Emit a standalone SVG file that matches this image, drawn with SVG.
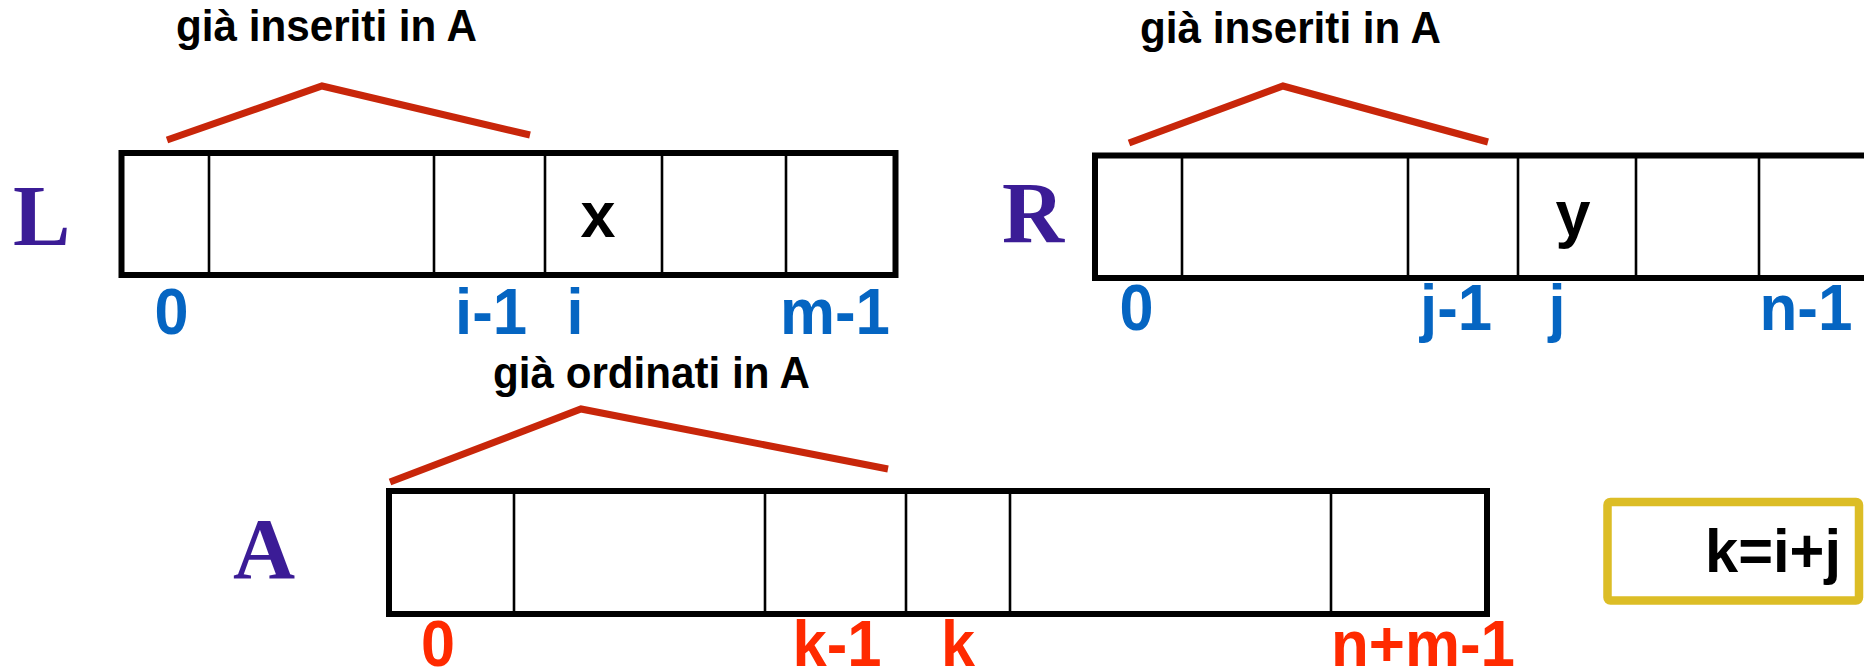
<svg xmlns="http://www.w3.org/2000/svg" width="1864" height="671" viewBox="0 0 1864 671">
<style>
.box{fill:#fff;stroke:#000;stroke-width:6}
.div{stroke:#000;stroke-width:2.6}
.brace{fill:none;stroke:#c8260a;stroke-width:7;stroke-linejoin:miter}
.title{font-family:"Liberation Sans",Arial,sans-serif;font-weight:bold;font-size:44px;fill:#000}
.name{font-family:"Liberation Serif","Times New Roman",serif;font-weight:bold;font-size:86px;fill:#3b1c96}
.val{font-family:"Liberation Sans",Arial,sans-serif;font-weight:bold;font-size:64px;fill:#000;text-anchor:middle}
.ib{font-family:"Liberation Sans",Arial,sans-serif;font-weight:bold;font-size:65px;fill:#0565c2;text-anchor:middle}
.ir{font-family:"Liberation Sans",Arial,sans-serif;font-weight:bold;font-size:65px;fill:#ff2a00;text-anchor:middle}
</style>
<rect width="1864" height="671" fill="#fff"/>
<g id="arrayL">
<text class="name" x="13" y="245">L</text>
<rect class="box" x="121.5" y="153" width="774" height="122"/>
<line class="div" x1="209" y1="153" x2="209" y2="275"/>
<line class="div" x1="434" y1="153" x2="434" y2="275"/>
<line class="div" x1="545" y1="153" x2="545" y2="275"/>
<line class="div" x1="662" y1="153" x2="662" y2="275"/>
<line class="div" x1="786" y1="153" x2="786" y2="275"/>
<text class="val" x="598" y="237" textLength="35" lengthAdjust="spacingAndGlyphs">x</text>
<text class="ib" x="171.5" y="334" textLength="34" lengthAdjust="spacingAndGlyphs">0</text>
<text class="ib" x="491" y="334" textLength="72" lengthAdjust="spacingAndGlyphs">i-1</text>
<text class="ib" x="575" y="334" textLength="17" lengthAdjust="spacingAndGlyphs">i</text>
<text class="ib" x="835" y="334" textLength="110" lengthAdjust="spacingAndGlyphs">m-1</text>
</g>
<g id="arrayR">
<text class="name" x="1002" y="242">R</text>
<rect class="box" x="1095" y="155.5" width="820" height="122.5"/>
<line class="div" x1="1182" y1="155.5" x2="1182" y2="278"/>
<line class="div" x1="1408" y1="155.5" x2="1408" y2="278"/>
<line class="div" x1="1518" y1="155.5" x2="1518" y2="278"/>
<line class="div" x1="1636" y1="155.5" x2="1636" y2="278"/>
<line class="div" x1="1759" y1="155.5" x2="1759" y2="278"/>
<text class="val" x="1573" y="236" textLength="35" lengthAdjust="spacingAndGlyphs">y</text>
<text class="ib" x="1136.5" y="330" textLength="34" lengthAdjust="spacingAndGlyphs">0</text>
<text class="ib" x="1456" y="330" textLength="72" lengthAdjust="spacingAndGlyphs">j-1</text>
<text class="ib" x="1557" y="330" textLength="17" lengthAdjust="spacingAndGlyphs">j</text>
<text class="ib" x="1806" y="330" textLength="93" lengthAdjust="spacingAndGlyphs">n-1</text>
</g>
<g id="arrayA">
<text class="name" x="233" y="578">A</text>
<rect class="box" x="389" y="491" width="1098" height="123"/>
<line class="div" x1="514" y1="491" x2="514" y2="614"/>
<line class="div" x1="765" y1="491" x2="765" y2="614"/>
<line class="div" x1="906" y1="491" x2="906" y2="614"/>
<line class="div" x1="1010" y1="491" x2="1010" y2="614"/>
<line class="div" x1="1331" y1="491" x2="1331" y2="614"/>
<text class="ir" x="438" y="666" textLength="34" lengthAdjust="spacingAndGlyphs">0</text>
<text class="ir" x="837" y="666" textLength="89" lengthAdjust="spacingAndGlyphs">k-1</text>
<text class="ir" x="958" y="666" textLength="34" lengthAdjust="spacingAndGlyphs">k</text>
<text class="ir" x="1423" y="666" textLength="184" lengthAdjust="spacingAndGlyphs">n+m-1</text>
</g>
<g id="note">
<rect x="1607.5" y="502" width="251.5" height="98.5" rx="3" fill="#fff" stroke="#dcbd26" stroke-width="8.5"/>
<text class="title" style="font-size:62px" x="1705" y="572" textLength="136" lengthAdjust="spacingAndGlyphs">k=i+j</text>
</g>
<g id="connectors">
<polyline class="brace" points="167,140 322,86 530,135"/>
<polyline class="brace" points="1129,143 1283,86 1488,142"/>
<polyline class="brace" points="390,482 581,409 888,469"/>
</g>
<g id="labels">
<text class="title" x="176" y="41" textLength="301" lengthAdjust="spacingAndGlyphs">già inseriti in A</text>
<text class="title" x="1140" y="43" textLength="301" lengthAdjust="spacingAndGlyphs">già inseriti in A</text>
<text class="title" x="493" y="388" textLength="317" lengthAdjust="spacingAndGlyphs">già ordinati in A</text>
</g>
</svg>
